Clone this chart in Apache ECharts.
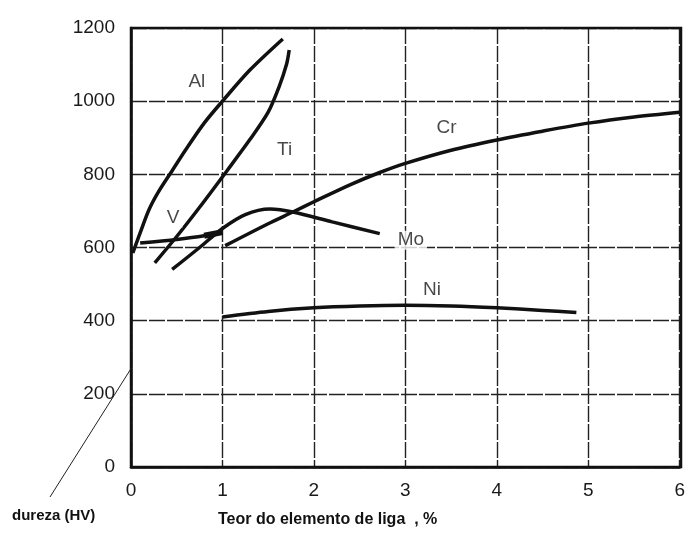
<!DOCTYPE html>
<html>
<head>
<meta charset="utf-8">
<script src="https://cdn.jsdelivr.net/npm/echarts@6/dist/echarts.min.js"></script>
<style>
  html, body { margin: 0; padding: 0; background: #fff; }
  #chart { width: 688px; height: 537px; }
</style>
</head>
<body>
<div id="chart"></div>
<script>
// Hardness (HV) against alloying element content (%)
const xTicks = [0, 1, 2, 3, 4, 5, 6];
const yTicks = [0, 200, 400, 600, 800, 1000, 1200];

const alCurve = [[0.02, 585], [0.1, 640], [0.2, 705], [0.3, 752], [0.45, 810], [0.6, 868], [0.8, 940], [1.0, 1000], [1.3, 1085], [1.66, 1170]];
const tiCurve = [[0.26, 558], [0.5, 630], [0.75, 710], [1.05, 810], [1.3, 895], [1.5, 970], [1.62, 1040], [1.7, 1100], [1.73, 1140]];
const vCurve = [[0.1, 612], [0.5, 622], [0.8, 632], [1.0, 642]];
const moCurve = [[0.45, 540], [0.75, 600], [1.0, 652], [1.25, 690], [1.52, 705], [1.77, 697], [2.2, 670], [2.72, 638]];
const crCurve = [[1.03, 605], [1.5, 665], [1.77, 697], [2.0, 725], [2.4, 772], [2.72, 805], [3.0, 830], [3.5, 866], [4.0, 894], [4.5, 918], [5.0, 940], [5.5, 957], [6.0, 970]];
const niCurve = [[1.0, 410], [1.5, 425], [2.0, 435], [2.5, 440], [3.0, 442], [3.5, 440], [4.0, 435], [4.5, 428], [4.87, 422]];

// Curve name and where its tag sits (data space)
const curveTags = [
  { name: 'Al', at: [0.72, 1052] },
  { name: 'Ti', at: [1.68, 866] },
  { name: 'V', at: [0.46, 680] },
  { name: 'Cr', at: [3.45, 926] },
  { name: 'Mo', at: [3.06, 620] },
  { name: 'Ni', at: [3.29, 484] }
];

const ink = '#111';
const font = '"Liberation Sans", Arial, sans-serif';

function curve(name, data, width) {
  return {
    name: name,
    type: 'line',
    data: data,
    smooth: 0.3,
    symbol: 'none',
    lineStyle: { color: ink, width: width || 3.5 },
    z: 3,
    silent: true
  };
}

const chart = echarts.init(document.getElementById('chart'), null, { renderer: 'canvas' });

const tagSeries = {
  type: 'scatter',
  data: curveTags.map(t => ({ value: t.at, name: t.name })),
  symbolSize: 0,
  z: 4,
  label: {
    show: true,
    position: 'inside',
    formatter: p => p.name,
    color: '#1a1a1a',
    fontFamily: font,
    fontSize: 19,
    backgroundColor: '#fff',
    padding: [0, 3]
  }
};

const gridLine = { color: '#222', width: 1.4, type: [16, 2] };

chart.setOption({
  animation: false,
  backgroundColor: '#fff',
  grid: { left: 131, top: 28, right: 7, bottom: 70 },
  xAxis: {
    type: 'value',
    min: xTicks[0],
    max: xTicks[xTicks.length - 1],
    interval: 1,
    axisLine: { show: true, lineStyle: { color: ink, width: 2.5 } },
    axisTick: { show: false },
    axisLabel: { color: '#1a1a1a', fontSize: 19, fontFamily: font, margin: 14 },
    splitLine: { show: true, lineStyle: gridLine }
  },
  yAxis: {
    type: 'value',
    min: yTicks[0],
    max: yTicks[yTicks.length - 1],
    interval: 200,
    axisLine: { show: true, lineStyle: { color: ink, width: 2.5 } },
    axisTick: { show: false },
    axisLabel: { color: '#1a1a1a', fontSize: 19, fontFamily: font, margin: 16, formatter: v => String(v) },
    splitLine: { show: true, lineStyle: gridLine }
  },
  graphic: [
    // frame on top and right
    { type: 'rect', shape: { x: 131, y: 28, width: 550, height: 439 }, style: { fill: null, stroke: ink, lineWidth: 2.5 }, z: 2, silent: true },
    // leader from the axis to its caption
    { type: 'line', shape: { x1: 50, y1: 497, x2: 132, y2: 367 }, style: { stroke: '#222', lineWidth: 1 }, z: 5 },
    { type: 'text', left: 12, top: 508, style: { text: 'dureza (HV)', fill: '#111', font: 'bold 15px "Liberation Sans", Arial, sans-serif' } },
    { type: 'text', left: 218, top: 512, style: { text: 'Teor do elemento de liga  , %', fill: '#111', font: 'bold 16px "Liberation Sans", Arial, sans-serif' } }
  ],
  series: [
    curve('Al', alCurve),
    curve('Ti', tiCurve),
    curve('V', vCurve),
    curve('V-end', vCurve.slice(2), 6),
    curve('Mo', moCurve),
    curve('Cr', crCurve),
    curve('Ni', niCurve),
    tagSeries
  ]
});
</script>
</body>
</html>
